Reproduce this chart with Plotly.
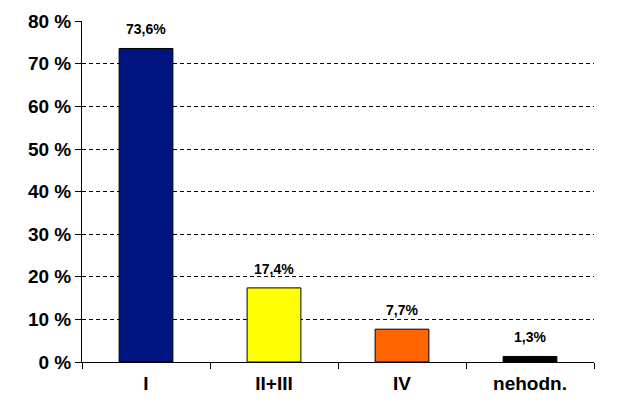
import plotly.graph_objects as go

categories = ["I", "II+III", "IV", "nehodn."]
values = [73.6, 17.4, 7.7, 1.3]
labels = ["73,6%", "17,4%", "7,7%", "1,3%"]
colors = ["#001480", "#FFFF00", "#FF6600", "#000000"]
y_ticks = [0, 10, 20, 30, 40, 50, 60, 70, 80]
y_ticktext = [f"{v} %" for v in y_ticks]

fig = go.Figure(go.Bar(
    x=categories, y=values,
    marker=dict(color=colors, line=dict(color="black", width=1)),
    width=0.42,
))

for c, v, t in zip(categories, values, labels):
    fig.add_annotation(x=c, y=v, text=t, showarrow=False, yanchor="bottom",
                       yshift=9, font=dict(family="Liberation Sans, Arial", size=14, color="black", weight="bold"))

fig.update_layout(
    width=622, height=420,
    margin=dict(l=82, r=28, t=21, b=58),
    paper_bgcolor="white", plot_bgcolor="white",
    showlegend=False,
    font=dict(family="Liberation Sans, Arial", color="black"),
)
fig.update_yaxes(
    range=[0, 80.05], tickvals=y_ticks, ticktext=y_ticktext,
    showgrid=True, gridcolor="black", griddash="4px,3px", gridwidth=1,
    showline=True, linecolor="black", linewidth=1,
    ticks="outside", ticklen=6, tickcolor="black",
    tickfont=dict(size=19, weight="bold"),
    zeroline=False, automargin=False,
)
fig.update_xaxes(
    showline=True, linecolor="black", linewidth=1,
    ticks="outside", tickson="boundaries", ticklen=6, tickcolor="black",
    tickfont=dict(size=19, weight="bold"), ticklabelstandoff=4,
    showgrid=False, automargin=False,
)

fig.write_html("out.html", config={"displayModeBar": False},
               post_script="document.body.style.margin='0';")
